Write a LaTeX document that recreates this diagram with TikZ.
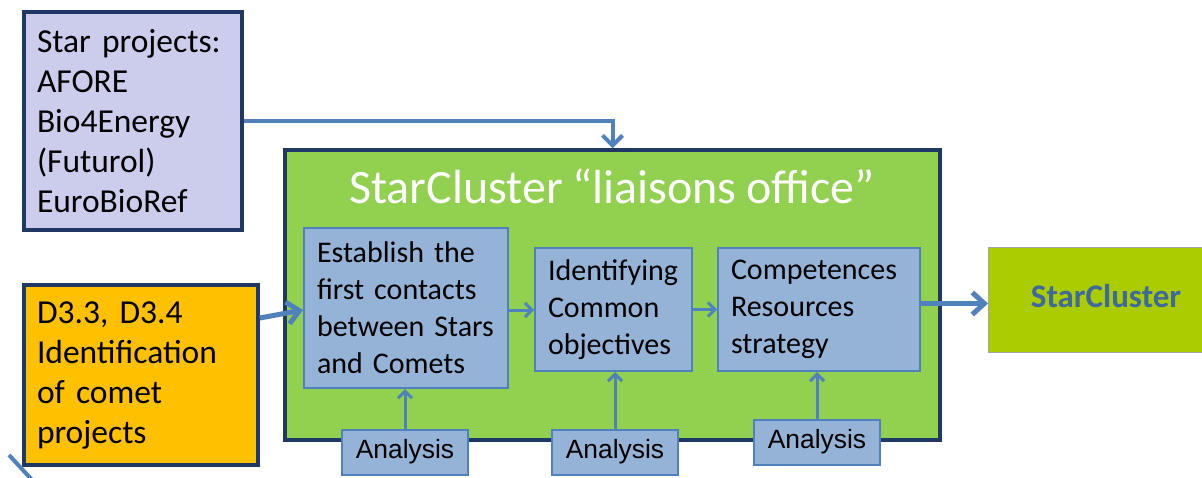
\documentclass[tikz,border=0pt]{standalone}
\usepackage{fontspec}
\setmainfont{Carlito}
\newfontfamily\arialf{Liberation Sans}
\usetikzlibrary{arrows.meta}
\definecolor{navy}{RGB}{31,56,100}
\definecolor{lav}{RGB}{204,204,236}
\definecolor{orng}{RGB}{255,192,0}
\definecolor{grn}{RGB}{146,208,80}
\definecolor{stb}{RGB}{149,179,215}
\definecolor{stbd}{RGB}{79,129,189}
\definecolor{olive}{RGB}{170,204,0}
\definecolor{sctext}{RGB}{62,104,160}
\newcommand{\tightsp}{\frenchspacing\spaceskip=0.2em\relax}
\tikzset{
  outerbox/.style={draw=navy, line width=3.5pt, inner xsep=13pt, inner ysep=0pt, align=left, anchor=center},
  innerbox/.style={draw=stbd, fill=stb, line width=2pt, inner xsep=13pt, inner ysep=0pt, align=left, anchor=center, font=\fontsize{30}{37}\selectfont\tightsp},
  anbox/.style={draw=stbd, fill=stb, line width=2pt, minimum width=126pt, minimum height=45pt, inner sep=0pt, font=\arialf\fontsize{26.4}{30}\selectfont},
  arr/.style={draw=stbd, line width=4pt, -{Straight Barb[length=10pt,width=20pt,line width=4pt]}},
  bigarr/.style={draw=stbd, line width=5pt, -{Straight Barb[length=12pt,width=22pt,line width=5pt]}},
  thinarr/.style={draw=stbd, line width=3pt, -{Straight Barb[length=7pt,width=14pt,line width=3pt]}}
}
\begin{document}
\begin{tikzpicture}[x=1pt,y=-1pt]
\useasboundingbox (0,0) rectangle (1202,477);
\fill[white] (0,0) rectangle (1202,477);
% star box
\node[outerbox, fill=lav, minimum width=218pt, minimum height=218pt, text width=192pt, font=\fontsize{33.5}{40}\selectfont\tightsp] (star) at (133,121) {Star projects:\\AFORE\\Bio4Energy\\(Futurol)\\EuroBioRef};
% orange box
\node[outerbox, fill=orng, minimum width=234pt, minimum height=180pt, text width=208pt, font=\fontsize{33.5}{40}\selectfont\tightsp] (comet) at (141,375) {D3.3, D3.4\\Identification\\of comet\\projects};
% green box
\node[draw=navy, fill=grn, line width=3.5pt, minimum width=655pt, minimum height=290pt, inner sep=0pt] (green) at (612.5,295) {};
\node[text=white, font=\fontsize{48}{54}\selectfont\tightsp, inner sep=0pt] (title) at (612,186) {StarCluster “liaisons office”};
% inner boxes
\node[innerbox, minimum width=204pt, minimum height=160pt, text width=178pt] (b1) at (406,308) {Establish the\\first contacts\\between Stars\\and Comets};
\node[innerbox, minimum width=157pt, minimum height=123pt, text width=131pt] (b2) at (613.5,309.5) {Identifying\\Common\\objectives};
\node[innerbox, minimum width=202pt, minimum height=123pt, text width=176pt] (b3) at (819,309.5) {Competences\\Resources\\strategy};
% analysis boxes
\node[anbox] (a1) at (405,452) {Analysis};
\node[anbox] (a2) at (615,452) {Analysis};
\node[anbox] (a3) at (817,442) {Analysis};
% StarCluster box
\node[draw=gray!70, fill=olive, line width=1pt, minimum width=224pt, minimum height=105pt, anchor=west, inner sep=0pt] (sc) at (988,300) {};
\node[text=sctext, font=\bfseries\fontsize{33}{38}\selectfont, inner sep=0pt] (sct) at (1106,296) {StarCluster};
% connectors
\draw[arr] (star.east) -| (green.north);
\draw[bigarr] ([yshift=57pt]comet.east) -- ([yshift=-2pt]b1.west);
\draw[thinarr] ([yshift=-2pt]b1.east) -- ([yshift=-2pt]b1.east -| b2.west);
\draw[thinarr] (b2.east) -- (b2.east -| b3.west);
\draw[bigarr] ([yshift=6pt]b3.east) -- ([yshift=6pt]b3.east -| sc.west);
\draw[thinarr] (a1.north) -- (a1.north |- b1.south);
\draw[thinarr] (a2.north) -- (a2.north |- b2.south);
\draw[thinarr] (a3.north) -- (a3.north |- b3.south);
% fragment line bottom-left
\draw[stbd, line width=4pt] (9,455) -- (33,481);
\end{tikzpicture}
\end{document}
